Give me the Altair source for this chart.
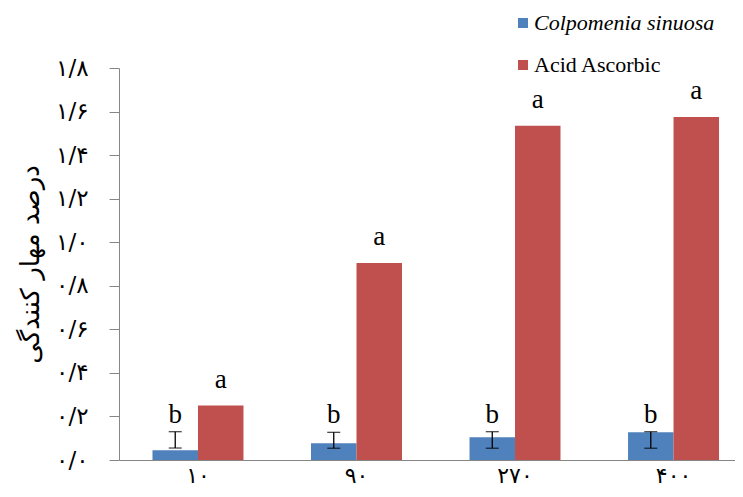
import altair as alt
import pandas as pd

categories = ["۱۰", "۹۰", "۲۷۰", "۴۰۰"]
series_names = ["Colpomenia sinuosa", "Acid Ascorbic"]
colors = ["#4F81BD", "#C0504D"]
colpomenia = [0.045, 0.077, 0.104, 0.127]
ascorbic = [0.25, 0.905, 1.535, 1.575]
err_low = [0.055, 0.054, 0.054, 0.054]
err_high = [0.13, 0.127, 0.13, 0.13]
letters_colpomenia = ["b", "b", "b", "b"]
letters_ascorbic = ["a", "a", "a", "a"]
y_ticks = [0, 0.2, 0.4, 0.6, 0.8, 1.0, 1.2, 1.4, 1.6, 1.8]
y_tick_labels = ["۰/۰", "۰/۲", "۰/۴", "۰/۶", "۰/۸", "۱/۰", "۱/۲", "۱/۴", "۱/۶", "۱/۸"]
y_title = "درصد مهار کنندگی"

rows = []
for i, c in enumerate(categories):
    rows.append({"category": c, "series": series_names[0], "value": colpomenia[i],
                 "letter": letters_colpomenia[i], "lo": err_low[i], "hi": err_high[i]})
    rows.append({"category": c, "series": series_names[1], "value": ascorbic[i],
                 "letter": letters_ascorbic[i], "lo": None, "hi": None})
df = pd.DataFrame(rows)
df_blue = df[df["series"] == series_names[0]]
df_red = df[df["series"] == series_names[1]]

label_expr = "[" + ",".join("'" + s + "'" for s in y_tick_labels) + "][round(datum.value*5)]"

x_enc = alt.X("category:N", sort=categories,
              scale=alt.Scale(domain=categories, paddingInner=0.426, paddingOuter=0.156,
                              align=0.677),
              axis=alt.Axis(title=None, labelAngle=0, ticks=False, domainColor="#868686",
                            labelFont="DejaVu Sans", labelFontSize=22, labelPadding=5,
                            labelColor="black"))
xoff = alt.XOffset("series:N", scale=alt.Scale(domain=series_names))
y_scale = alt.Scale(domain=[0, 1.8], nice=False)

bars = alt.Chart(df).mark_bar().encode(
    x=x_enc,
    xOffset=xoff,
    y=alt.Y("value:Q", scale=y_scale,
            axis=alt.Axis(values=y_ticks, labelExpr=label_expr, grid=False,
                          domainColor="#868686", tickColor="#868686", tickSize=10,
                          labelPadding=21, labelFont="DejaVu Sans", labelFontSize=23,
                          labelColor="black", title=y_title, titleFont="DejaVu Sans",
                          titleFontSize=26, titleFontWeight="normal", titleColor="black",
                          titlePadding=12)),
    color=alt.Color("series:N", scale=alt.Scale(domain=series_names, range=colors),
                    legend=alt.Legend(title=None, orient="none", legendX=393, legendY=-56,
                                      symbolType="square", symbolSize=100, symbolStrokeWidth=0,
                                      labelFont="Liberation Serif", labelFontSize=22,
                                      labelColor="black", labelOffset=0, rowPadding=20,
                                      labelLimit=400,
                                      labelFontStyle=alt.ExprRef(
                                          expr="datum.label == 'Colpomenia sinuosa' ? 'italic' : 'normal'"))),
)

err_rule = alt.Chart(df_blue).mark_rule(color="black", strokeWidth=1.3).encode(
    x=alt.X("category:N", sort=categories), xOffset=xoff,
    y=alt.Y("lo:Q", scale=y_scale), y2="hi:Q")
cap_lo = alt.Chart(df_blue).mark_tick(color="black", thickness=1.3, size=13).encode(
    x=alt.X("category:N", sort=categories), xOffset=xoff, y=alt.Y("lo:Q", scale=y_scale))
cap_hi = alt.Chart(df_blue).mark_tick(color="black", thickness=1.3, size=13).encode(
    x=alt.X("category:N", sort=categories), xOffset=xoff, y=alt.Y("hi:Q", scale=y_scale))

text_b = alt.Chart(df_blue).mark_text(font="Liberation Serif", fontSize=27, dy=-9,
                                       baseline="alphabetic", color="black").encode(
    x=alt.X("category:N", sort=categories), xOffset=xoff,
    y=alt.Y("hi:Q", scale=y_scale), text="letter:N")
text_a = alt.Chart(df_red).mark_text(font="Liberation Serif", fontSize=27, dy=-18,
                                      baseline="alphabetic", color="black").encode(
    x=alt.X("category:N", sort=categories), xOffset=xoff,
    y=alt.Y("value:Q", scale=y_scale), text="letter:N")

chart = alt.layer(bars, err_rule, cap_lo, cap_hi, text_b, text_a).properties(
    width=616, height=392,
    padding={"left": 111, "top": 60, "right": 0, "bottom": 29},
    autosize=alt.AutoSizeParams(type="none"),
).configure_view(stroke=None)

chart.save("out.html", embed_options={"renderer": "svg", "actions": False})
